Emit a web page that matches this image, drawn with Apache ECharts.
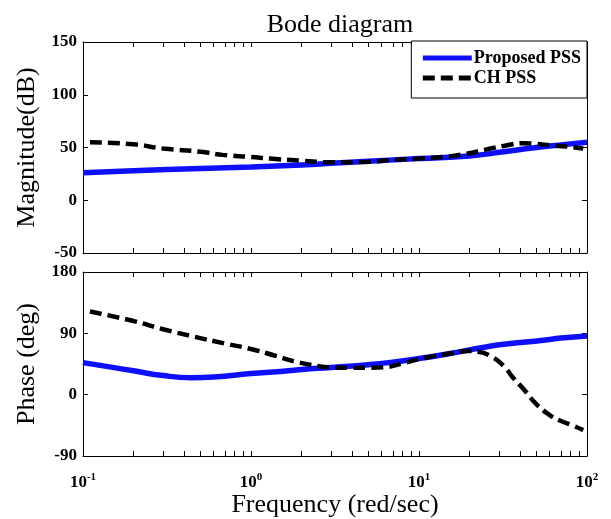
<!DOCTYPE html>
<html><head><meta charset="utf-8">
<script src="https://cdn.jsdelivr.net/npm/echarts@6/dist/echarts.min.js"></script>
<style>html,body{margin:0;padding:0;background:#fff}#c{width:611px;height:519px}</style>
</head><body><div id="c"></div>
<script>
// ---- data ----
const seriesNames = ['Proposed PSS', 'CH PSS'];
const magFreqProposed = [0.1, 0.2, 0.5, 1, 2, 3, 5, 10, 20, 32, 50, 70, 100];
const magProposed     = [26, 28, 30, 31.5, 33.5, 35, 37, 39.5, 42, 46, 50, 52.5, 55];
const magFreqCH = [0.11, 0.2, 0.3, 0.5, 0.68, 1, 1.3, 2, 3, 5, 6.7, 10, 14, 19, 25, 32, 42, 50, 61, 75, 95];
const magCH     = [55, 53, 49, 46, 43, 41, 39.5, 37.5, 36, 36.5, 38, 39.5, 41, 44, 48, 51.5, 54, 53.5, 52, 51, 49];
const phFreqProposed = [0.1, 0.15, 0.2, 0.3, 0.44, 0.6, 1, 1.5, 2, 3, 5, 6.6, 10, 15, 19.3, 25, 32, 55, 70, 100];
const phProposed     = [47, 40, 35, 28, 25, 26, 31, 34, 37, 40, 44, 47, 53, 60, 65, 70, 74, 80, 83, 86];
const phFreqCH = [0.11, 0.2, 0.3, 0.46, 0.7, 1, 1.4, 1.8, 2.5, 3, 3.9, 5, 6.6, 8, 11.3, 15, 19.3, 22.5, 26.5, 32, 36, 42, 50, 60, 69, 80, 95];
const phCH     = [122, 108, 96, 85, 75, 67, 57, 49, 42, 40, 39.5, 39.5, 41, 46, 55, 60, 64, 63, 57, 42, 26, 8, -14, -30, -38, -44, -52];
const xTickValues = [0.1,0.2,0.3,0.4,0.5,0.6,0.7,0.8,0.9,1,2,3,4,5,6,7,8,9,10,20,30,40,50,60,70,80,90,100];
const magTicks = [-50, 0, 50, 100, 150];
const phaseTicks = [-90, 0, 90, 180];

const pairs = (xs, ys) => xs.map((x, i) => [x, ys[i]]);
const serif = 'Liberation Serif';
const blue = '#0f0fff';
const dash = [12, 6];

const chart = echarts.init(document.getElementById('c'));
const labelFmt = v => {
  const e = Math.round(Math.log10(v));
  return '{b|10}{e|' + e + '}';
};
const xBase = (gridIndex, pos, showLabel, name) => ({
  type: 'log', logBase: 10, min: 0.1, max: 100, gridIndex, position: pos,
  axisLine: {show: true, onZero: false, lineStyle: {color: '#000', width: 1}},
  axisTick: {show: true, inside: true, length: 5, customValues: xTickValues, lineStyle: {color: '#000'}},
  axisLabel: {show: showLabel, formatter: labelFmt, margin: 16,
    rich: {b: {fontFamily: serif, fontWeight: 'bold', fontSize: 17, color: '#000'},
           e: {fontFamily: serif, fontWeight: 'bold', fontSize: 11, color: '#000', padding: [0, 0, 10, 0]}}},
  splitLine: {show: false}, minorTick: {show: false},
  name: name || '', nameLocation: 'middle', nameGap: 36,
  nameTextStyle: {fontFamily: serif, fontSize: 26, color: '#000'}
});
const yBase = (gridIndex, pos, min, max, interval, showLabel, name) => ({
  type: 'value', gridIndex, position: pos, min, max, interval,
  axisLine: {show: true, onZero: false, lineStyle: {color: '#000', width: 1}},
  axisTick: {show: true, inside: true, length: 5, lineStyle: {color: '#000'}},
  axisLabel: {show: showLabel, margin: 6, fontFamily: serif, fontWeight: 'bold', fontSize: 17, color: '#000'},
  splitLine: {show: false},
  name: name || '', nameLocation: 'middle', nameGap: 42, nameRotate: 90,
  nameTextStyle: {fontFamily: serif, fontSize: 26, color: '#000'}
});

chart.setOption({
  animation: false,
  backgroundColor: '#fff',
  title: {text: 'Bode diagram', left: 335, textAlign: 'center', top: 7,
    textStyle: {fontFamily: serif, fontWeight: 'normal', fontSize: 26, color: '#000'}},
  legend: {
    data: [
      {name: seriesNames[0], lineStyle: {width: 5, color: blue}},
      {name: seriesNames[1], lineStyle: {width: 5, color: '#000', type: dash}}
    ],
    orient: 'vertical', right: 24, top: 41,
    itemStyle: {opacity: 0},
    backgroundColor: '#fff', borderColor: '#000', borderWidth: 1, padding: [8, 6, 11, 9],
    itemWidth: 49, itemHeight: 14, itemGap: 2,
    textStyle: {fontFamily: serif, fontWeight: 'bold', fontSize: 18, color: '#000', padding: [0, 0, 0, -3]}
  },
  grid: [
    {left: 83, right: 24, top: 42, height: 211},
    {left: 83, right: 24, top: 272, height: 185}
  ],
  xAxis: [
    xBase(0, 'bottom', false), xBase(0, 'top', false),
    xBase(1, 'bottom', true, 'Frequency (red/sec)'), xBase(1, 'top', false)
  ],
  yAxis: [
    yBase(0, 'left', -50, 150, 50, true, 'Magnitude(dB)'), yBase(0, 'right', -50, 150, 50, false),
    yBase(1, 'left', -90, 180, 90, true, 'Phase (deg)'), yBase(1, 'right', -90, 180, 90, false)
  ],
  series: [
    {name: seriesNames[0], type: 'line', xAxisIndex: 0, yAxisIndex: 0, data: pairs(magFreqProposed, magProposed),
     smooth: true, symbol: 'none', lineStyle: {color: blue, width: 5.5}, itemStyle: {color: blue}, z: 2},
    {name: seriesNames[1], type: 'line', xAxisIndex: 0, yAxisIndex: 0, data: pairs(magFreqCH, magCH),
     smooth: true, symbol: 'none', lineStyle: {color: '#000', width: 4.5, type: dash}, itemStyle: {color: '#000'}, z: 3},
    {name: seriesNames[0], type: 'line', xAxisIndex: 2, yAxisIndex: 2, data: pairs(phFreqProposed, phProposed),
     smooth: true, symbol: 'none', lineStyle: {color: blue, width: 5.5}, itemStyle: {color: blue}, z: 2},
    {name: seriesNames[1], type: 'line', xAxisIndex: 2, yAxisIndex: 2, data: pairs(phFreqCH, phCH),
     smooth: true, symbol: 'none', lineStyle: {color: '#000', width: 4.5, type: dash}, itemStyle: {color: '#000'}, z: 3}
  ]
});
</script></body></html>
